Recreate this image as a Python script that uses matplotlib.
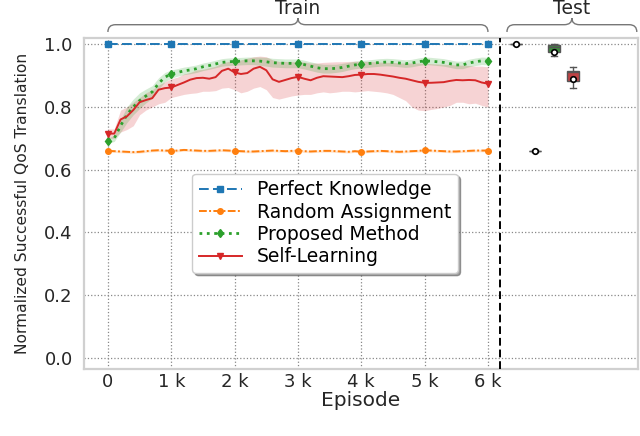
import numpy as np
import matplotlib
matplotlib.use("Agg")
import matplotlib.pyplot as plt
from matplotlib.path import Path
from matplotlib.patches import PathPatch
import matplotlib.transforms as mtransforms

# ---------------- data ----------------
episodes = list(range(0, 6001, 100))

perfect_value = 1.0

random_mean = [0.660, 0.659, 0.658, 0.657, 0.656, 0.657, 0.659, 0.661, 0.662, 0.661,
               0.660, 0.661, 0.663, 0.662, 0.661, 0.660, 0.660, 0.661, 0.662, 0.661,
               0.660, 0.659, 0.658, 0.658, 0.659, 0.660, 0.661, 0.660, 0.659, 0.660,
               0.661, 0.659, 0.658, 0.659, 0.660, 0.660, 0.659, 0.658, 0.657, 0.659,
               0.657, 0.658, 0.659, 0.660, 0.659, 0.658, 0.657, 0.658, 0.659, 0.660,
               0.662, 0.661, 0.660, 0.659, 0.658, 0.658, 0.659, 0.660, 0.661, 0.661,
               0.661]
random_halfwidth = 0.004

proposed_mean = [0.692, 0.700, 0.740, 0.775, 0.800, 0.820, 0.835, 0.848, 0.875, 0.895,
                 0.905, 0.910, 0.915, 0.918, 0.922, 0.928, 0.932, 0.937, 0.942, 0.944,
                 0.945, 0.946, 0.947, 0.947, 0.946, 0.944, 0.941, 0.940, 0.939, 0.939,
                 0.939, 0.935, 0.930, 0.925, 0.922, 0.922, 0.923, 0.926, 0.930, 0.934,
                 0.936, 0.938, 0.940, 0.942, 0.943, 0.942, 0.940, 0.938, 0.940, 0.944,
                 0.947, 0.946, 0.944, 0.942, 0.938, 0.934, 0.934, 0.940, 0.944, 0.947,
                 0.946]
proposed_halfwidth = [0.008, 0.010, 0.020, 0.025, 0.025, 0.025, 0.022, 0.020, 0.018, 0.015,
                      0.013, 0.012, 0.012, 0.012, 0.012, 0.012, 0.012, 0.012, 0.012, 0.012,
                      0.012, 0.012, 0.012, 0.012, 0.013, 0.014, 0.014, 0.014, 0.014, 0.014,
                      0.014, 0.014, 0.014, 0.014, 0.014, 0.014, 0.013, 0.013, 0.012, 0.012,
                      0.012, 0.012, 0.012, 0.012, 0.012, 0.012, 0.012, 0.012, 0.012, 0.012,
                      0.012, 0.012, 0.012, 0.012, 0.012, 0.012, 0.012, 0.012, 0.012, 0.012,
                      0.012]

selflearn_mean = [0.715, 0.715, 0.760, 0.770, 0.790, 0.815, 0.822, 0.828, 0.855, 0.860,
                  0.862, 0.870, 0.878, 0.887, 0.892, 0.893, 0.890, 0.895, 0.915, 0.922,
                  0.910, 0.905, 0.908, 0.922, 0.928, 0.917, 0.888, 0.880, 0.886, 0.892,
                  0.896, 0.890, 0.885, 0.893, 0.898, 0.897, 0.896, 0.895, 0.898, 0.902,
                  0.903, 0.905, 0.905, 0.903, 0.900, 0.897, 0.893, 0.890, 0.885, 0.880,
                  0.877, 0.877, 0.878, 0.879, 0.883, 0.886, 0.885, 0.886, 0.885, 0.878,
                  0.874]
selflearn_low = [0.700, 0.700, 0.720, 0.728, 0.740, 0.775, 0.790, 0.800, 0.810, 0.815,
                 0.830, 0.835, 0.840, 0.843, 0.845, 0.850, 0.850, 0.852, 0.860, 0.862,
                 0.855, 0.845, 0.850, 0.860, 0.865, 0.855, 0.830, 0.825, 0.830, 0.835,
                 0.838, 0.840, 0.840, 0.845, 0.848, 0.845, 0.847, 0.850, 0.850, 0.848,
                 0.850, 0.852, 0.850, 0.848, 0.845, 0.840, 0.830, 0.820, 0.800, 0.790,
                 0.788, 0.792, 0.795, 0.800, 0.805, 0.815, 0.815, 0.810, 0.812, 0.805,
                 0.800]
selflearn_high = [0.730, 0.730, 0.790, 0.800, 0.815, 0.830, 0.845, 0.855, 0.870, 0.880,
                  0.890, 0.895, 0.905, 0.910, 0.918, 0.920, 0.925, 0.930, 0.940, 0.945,
                  0.945, 0.950, 0.955, 0.960, 0.962, 0.960, 0.950, 0.945, 0.945, 0.944,
                  0.945, 0.943, 0.940, 0.940, 0.942, 0.943, 0.944, 0.944, 0.945, 0.946,
                  0.945, 0.945, 0.944, 0.943, 0.942, 0.942, 0.940, 0.940, 0.940, 0.940,
                  0.939, 0.938, 0.937, 0.936, 0.935, 0.934, 0.933, 0.932, 0.930, 0.930,
                  0.928]

series_labels = ["Perfect Knowledge", "Random Assignment", "Proposed Method", "Self-Learning"]
series_colors = ["#1f77b4", "#ff7f0e", "#2ca02c", "#d62728"]
box_fill = ["#ffffff", "#ffffff", "#3d8b3d", "#bf4244"]

# test box stats
test_whislo = [0.999, 0.657, 0.962, 0.859]
test_q1 = [1.000, 0.659, 0.975, 0.883]
test_med = [1.000, 0.660, 0.990, 0.910]
test_q3 = [1.000, 0.661, 0.998, 0.914]
test_whishi = [1.000, 0.663, 1.000, 0.928]
test_mean = [1.000, 0.660, 0.975, 0.890]
test_positions = [6450, 6750, 7050, 7350]

xtick_vals = [0, 1000, 2000, 3000, 4000, 5000, 6000]
xtick_labels = ["0", "1 k", "2 k", "3 k", "4 k", "5 k", "6 k"]
ytick_vals = [0.0, 0.2, 0.4, 0.6, 0.8, 1.0]

# ---------------- plot ----------------
plt.rcParams['font.family'] = ['DejaVu Sans']
text_color = '#262626'
fig = plt.figure(figsize=(6.4, 4.36), dpi=100)
ax = fig.add_axes([0.131, 0.154, 0.866, 0.759])

x = np.array(episodes)
mk_every = 10
lw = 1.4

ax.plot(x, [perfect_value] * len(x), color=series_colors[0], ls=(0, (5, 2.2)), lw=lw,
        marker='s', ms=4, markevery=mk_every, label=series_labels[0], zorder=4)

rm = np.array(random_mean)
ax.fill_between(x, rm - random_halfwidth, rm + random_halfwidth, color=series_colors[1],
                alpha=0.2, lw=0)
ax.plot(x, rm, color=series_colors[1], ls=(0, (4, 1.2, 1, 1.2)), lw=lw, marker='o', ms=4,
        markevery=mk_every, label=series_labels[1], zorder=4)

sl = np.array(selflearn_mean)
ax.fill_between(x, selflearn_low, selflearn_high, color=series_colors[3], alpha=0.2, lw=0)
pm = np.array(proposed_mean)
ph = np.array(proposed_halfwidth)
ax.fill_between(x, pm - ph, pm + ph, color=series_colors[2], alpha=0.2, lw=0)

ax.plot(x, pm, color=series_colors[2], ls=':', lw=2.0, marker='d', ms=4.5,
        markevery=mk_every, label=series_labels[2], zorder=5)
ax.plot(x, sl, color=series_colors[3], ls='-', lw=lw, marker='v', ms=4.5,
        markevery=mk_every, label=series_labels[3], zorder=5)

# test boxes
stats = []
for i in range(4):
    stats.append(dict(whislo=test_whislo[i], q1=test_q1[i], med=test_med[i],
                      q3=test_q3[i], whishi=test_whishi[i], mean=test_mean[i], fliers=[]))
bp = ax.bxp(stats, positions=test_positions, widths=190, showmeans=True, patch_artist=True,
            manage_ticks=False,
            boxprops=dict(edgecolor='#555555', lw=1.0),
            whiskerprops=dict(color='#555555', lw=1.0),
            capprops=dict(color='#555555', lw=1.0),
            medianprops=dict(color='#555555', lw=1.0),
            meanprops=dict(marker='o', markerfacecolor='white', markeredgecolor='black',
                           markersize=4, markeredgewidth=1.2))
for patch, fc in zip(bp['boxes'], box_fill):
    patch.set_facecolor(fc)

# separator
ax.axvline(6190, color='black', ls=(0, (4, 2)), lw=1.4, zorder=6)

# axes styling
ax.set_xlim(-380, 8370)
ax.set_ylim(-0.035, 1.02)
ax.set_xticks(xtick_vals)
ax.set_xticklabels(xtick_labels)
ax.set_yticks(ytick_vals)
ax.set_yticklabels([f"{v:.1f}" for v in ytick_vals])
ax.tick_params(axis='both', labelsize=13, length=0, colors=text_color)
ax.tick_params(axis='y', pad=8)
ax.tick_params(axis='x', pad=3)
ax.set_xlabel("Episode", fontsize=14.5, color=text_color, labelpad=0)
ax.set_ylabel("Normalized Successful QoS Translation", fontsize=11.2, color=text_color)
ax.yaxis.set_label_coords(-0.097, 0.5)
ax.grid(True, ls=':', color='#888888', lw=0.9)
ax.set_axisbelow(True)
for s in ax.spines.values():
    s.set_color('#d0d0d0')
    s.set_linewidth(1.6)

leg = ax.legend(loc='center', bbox_to_anchor=(0.435, 0.44), fontsize=13.5, frameon=True,
                shadow=True, fancybox=True, handlelength=2.3, labelspacing=0.18,
                borderpad=0.35, handletextpad=0.8)
leg.get_frame().set_edgecolor('#cccccc')
leg.get_frame().set_linewidth(1.0)

# braces
trans = mtransforms.blended_transform_factory(ax.transData, ax.transAxes)


def brace(x0, x1, y_end, y_mid, y_tip, rx):
    xc = (x0 + x1) / 2
    verts = [(x0, y_end), (x0, y_mid), (x0 + rx, y_mid),
             (xc - rx, y_mid), (xc, y_mid), (xc, y_tip),
             (xc, y_mid), (xc + rx, y_mid),
             (x1 - rx, y_mid), (x1, y_mid), (x1, y_end)]
    codes = [Path.MOVETO, Path.CURVE3, Path.CURVE3,
             Path.LINETO, Path.CURVE3, Path.CURVE3,
             Path.CURVE3, Path.CURVE3,
             Path.LINETO, Path.CURVE3, Path.CURVE3]
    p = PathPatch(Path(verts, codes), transform=trans, fill=False, edgecolor='#777777',
                  lw=1.0, clip_on=False)
    ax.add_patch(p)
    return xc


xc1 = brace(0, 6000, 1.018, 1.040, 1.060, 120)
xc2 = brace(6300, 8350, 1.018, 1.040, 1.060, 120)
ax.text(xc1, 1.073, "Train", transform=trans, ha='center', va='baseline', fontsize=13.5,
        color=text_color)
ax.text(xc2, 1.073, "Test", transform=trans, ha='center', va='baseline', fontsize=13.5,
        color=text_color)

fig.savefig("out.png", dpi=100)
